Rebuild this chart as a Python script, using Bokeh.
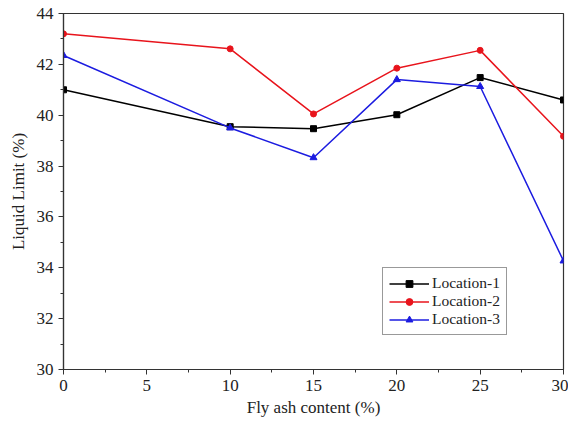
from bokeh.plotting import figure
from bokeh.models import SingleIntervalTicker, Range1d, Legend, LegendItem
from bokeh.embed import file_html
from bokeh.resources import INLINE

fly_ash = [0, 10, 15, 20, 25, 30]
loc1 = [41.0, 39.55, 39.47, 40.02, 41.48, 40.6]
loc2 = [43.2, 42.61, 40.05, 41.85, 42.55, 39.17]
loc3 = [42.35, 39.5, 38.33, 41.4, 41.13, 34.27]

FONT = "Liberation Serif"

p = figure(width=568, height=422, output_backend="svg", toolbar_location=None,
           x_range=Range1d(0, 30), y_range=Range1d(30, 44),
           min_border_left=63, min_border_right=5, min_border_top=13, min_border_bottom=53)
p.grid.visible = False
p.outline_line_color = "#333333"
p.outline_line_width = 1.2
p.background_fill_color = "white"
p.border_fill_color = "white"

p.xaxis.ticker = SingleIntervalTicker(interval=5, num_minor_ticks=2)
p.yaxis.ticker = SingleIntervalTicker(interval=2, num_minor_ticks=2)
for ax in (p.xaxis, p.yaxis):
    ax.axis_line_color = "#333333"
    ax.axis_line_width = 1.2
    ax.major_tick_line_color = "#333333"
    ax.minor_tick_line_color = "#333333"
    ax.major_tick_in = 0
    ax.major_tick_out = 5
    ax.minor_tick_in = 0
    ax.minor_tick_out = 3
    ax.major_label_text_font = FONT
    ax.major_label_text_font_size = "17px"
    ax.major_label_text_color = "#222222"
    ax.axis_label_text_font = FONT
    ax.axis_label_text_font_size = "17px"
    ax.axis_label_text_font_style = "normal"
    ax.axis_label_text_color = "#222222"
p.xaxis.axis_label = "Fly ash content (%)"
p.yaxis.axis_label = "Liquid Limit (%)"
p.xaxis.axis_label_standoff = 4
p.yaxis.axis_label_standoff = 6

l1 = p.line(fly_ash, loc1, line_color="black", line_width=1.5)
m1 = p.scatter(fly_ash, loc1, marker="square", size=6, color="black")
l2 = p.line(fly_ash, loc2, line_color="#e8141c", line_width=1.5)
m2 = p.scatter(fly_ash, loc2, marker="circle", size=6, color="#e8141c")
l3 = p.line(fly_ash, loc3, line_color="#1c1ce0", line_width=1.5)
m3 = p.scatter(fly_ash, loc3, marker="triangle", size=7, color="#1c1ce0")

legend = Legend(items=[
    LegendItem(label="Location-1", renderers=[l1, m1]),
    LegendItem(label="Location-2", renderers=[l2, m2]),
    LegendItem(label="Location-3", renderers=[l3, m3]),
], location=(319, 34))
legend.label_text_font = FONT
legend.label_text_font_size = "15.5px"
legend.label_text_color = "#222222"
legend.border_line_color = "#333333"
legend.border_line_width = 1
legend.padding = 6
legend.spacing = 0
legend.margin = 0
legend.glyph_width = 40
legend.glyph_height = 17
legend.label_height = 17
legend.label_standoff = 3
legend.background_fill_alpha = 1
p.add_layout(legend)

open("out.html", "w").write(file_html(p, INLINE))
